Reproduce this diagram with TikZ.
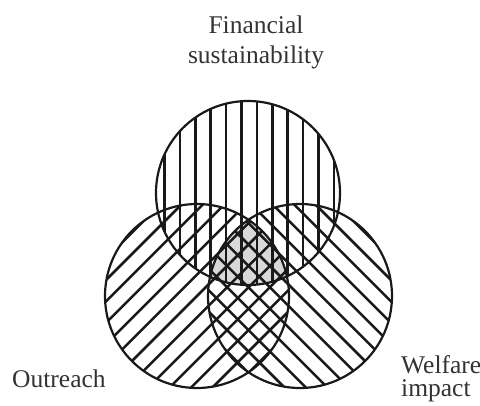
\documentclass[tikz,border=0pt]{standalone}
\usepackage{fontspec}
\setmainfont{Liberation Serif}
\begin{document}
\begin{tikzpicture}[x=1pt,y=-1pt,
  ring/.style={draw=black!90,line width=2.2pt},
  hatch/.style={draw=black!90,line width=2.5pt},
  lbl/.style={inner sep=0pt,text=black!80,font=\fontsize{25.5}{30}\selectfont}]
\useasboundingbox (0,0) rectangle (480,405);
\def\R{92}
\coordinate (top) at (248,193);
\coordinate (lft) at (197,296);
\coordinate (rgt) at (300,296);
% gray triple intersection
\begin{scope}
  \clip (top) circle (\R);
  \clip (lft) circle (\R);
  \fill[gray!30] (rgt) circle (\R);
\end{scope}
% vertical hatch in top circle
\begin{scope}
  \clip (top) circle (\R);
  \foreach \i in {-6,...,6}
    \draw[hatch] (241.5+15.4*\i,95) -- (241.5+15.4*\i,290);
\end{scope}
% "/" hatch in left circle
\begin{scope}
  \clip (lft) circle (\R);
  \foreach \i in {-7,...,7}
    \draw[hatch] (493+21.4*\i-420,420) -- (493+21.4*\i-180,180);
\end{scope}
% "\" hatch in right circle
\begin{scope}
  \clip (rgt) circle (\R);
  \foreach \i in {-7,...,7}
    \draw[hatch] (4+21.4*\i+180,180) -- (4+21.4*\i+420,420);
\end{scope}
% outlines
\draw[ring] (top) circle (\R);
\draw[ring] (lft) circle (\R);
\draw[ring] (rgt) circle (\R);
% labels
\node[lbl,anchor=base] (fin1) at (256,33) {Financial};
\node[lbl,anchor=base] (fin2) at (256,63) {sustainability};
\node[lbl,anchor=base west] (out) at (12,387) {Outreach};
\node[lbl,anchor=base west] (wel1) at (401,373) {Welfare};
\node[lbl,anchor=base west] (wel2) at (401,396) {impact};
\end{tikzpicture}
\end{document}
